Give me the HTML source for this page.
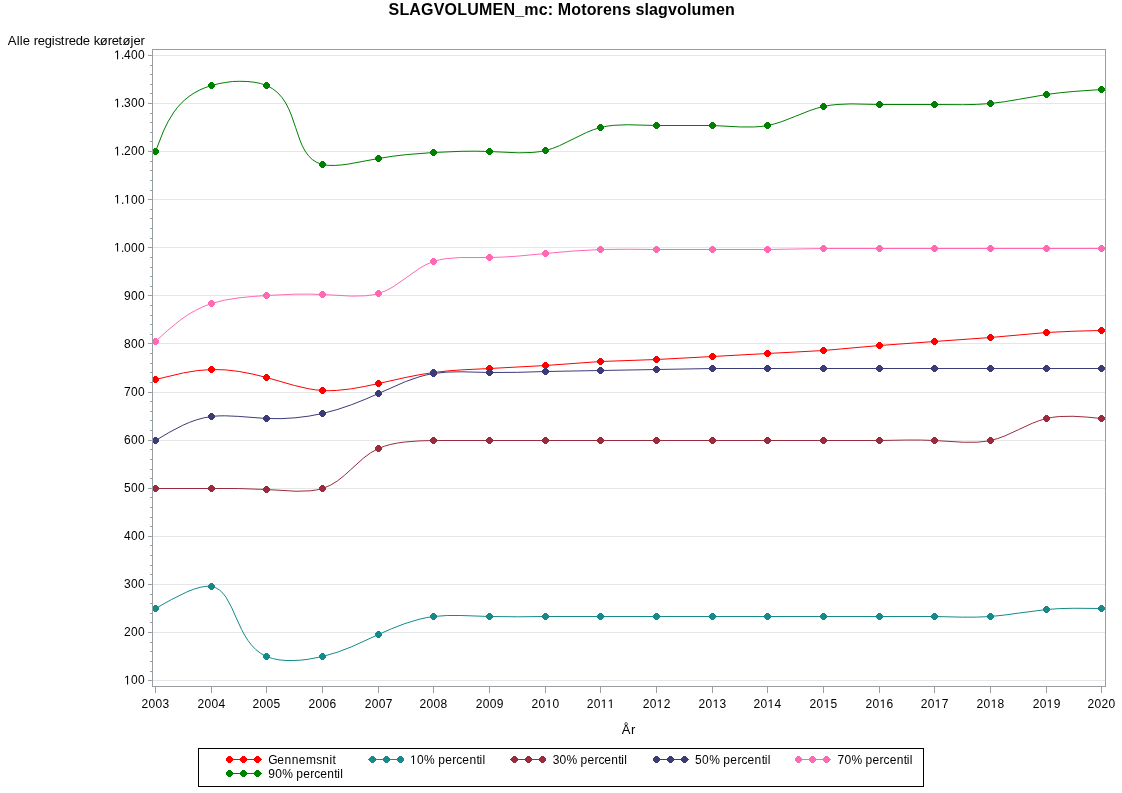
<!DOCTYPE html><html><head><meta charset="utf-8"><style>html,body{margin:0;padding:0;background:#fff;width:1122px;height:793px;overflow:hidden}svg{display:block;will-change:transform}text{font-family:"Liberation Sans",sans-serif;fill:#000}</style></head><body>
<svg width="1122" height="793" viewBox="0 0 1122 793">
<rect x="0" y="0" width="1122" height="793" fill="#fff"/>
<text x="388.53 399.39 409.34 421.09 433.76 444.62 457.28 467.23 478.98 492.55 503.41 515.16 524.22 538.70 547.75 553.17 557.70 571.26 581.20 586.63 596.57 602.91 611.96 621.91 630.96 635.49 644.54 649.06 658.12 668.06 677.12 687.06 691.59 701.53 716.01 725.06" y="15" font-size="16" font-weight="bold">SLAGVOLUMEN_mc: Motorens slagvolumen</text>
<text x="7.77 16.76 19.76 22.75 29.74 33.74 37.73 44.72 51.71 54.71 60.70 64.70 68.69 75.68 82.67 89.66 93.66 99.65 107.64 111.63 118.62 122.62 130.61 133.60 140.59" y="45" font-size="13">Alle registrede køretøjer</text>
<path d="M153,680.5H1105 M153,632.5H1105 M153,584.5H1105 M153,536.5H1105 M153,488.5H1105 M153,440.5H1105 M153,392.5H1105 M153,343.5H1105 M153,295.5H1105 M153,247.5H1105 M153,199.5H1105 M153,151.5H1105 M153,103.5H1105 M153,55.5H1105" stroke="#E6E6E6" stroke-width="1" fill="none" shape-rendering="crispEdges"/>
<path d="M148,680.5H152 M148,632.5H152 M148,584.5H152 M148,536.5H152 M148,488.5H152 M148,440.5H152 M148,392.5H152 M148,343.5H152 M148,295.5H152 M148,247.5H152 M148,199.5H152 M148,151.5H152 M148,103.5H152 M148,55.5H152 M150,671.5H152 M150,661.5H152 M150,651.5H152 M150,642.5H152 M150,622.5H152 M150,613.5H152 M150,603.5H152 M150,594.5H152 M150,574.5H152 M150,565.5H152 M150,555.5H152 M150,545.5H152 M150,526.5H152 M150,517.5H152 M150,507.5H152 M150,497.5H152 M150,478.5H152 M150,469.5H152 M150,459.5H152 M150,449.5H152 M150,430.5H152 M150,420.5H152 M150,411.5H152 M150,401.5H152 M150,382.5H152 M150,372.5H152 M150,363.5H152 M150,353.5H152 M150,334.5H152 M150,324.5H152 M150,315.5H152 M150,305.5H152 M150,286.5H152 M150,276.5H152 M150,267.5H152 M150,257.5H152 M150,238.5H152 M150,228.5H152 M150,218.5H152 M150,209.5H152 M150,190.5H152 M150,180.5H152 M150,170.5H152 M150,161.5H152 M150,141.5H152 M150,132.5H152 M150,122.5H152 M150,113.5H152 M150,93.5H152 M150,84.5H152 M150,74.5H152 M150,65.5H152 M155.5,687V693 M211.5,687V693 M266.5,687V693 M322.5,687V693 M378.5,687V693 M433.5,687V693 M489.5,687V693 M545.5,687V693 M600.5,687V693 M656.5,687V693 M712.5,687V693 M767.5,687V693 M823.5,687V693 M879.5,687V693 M934.5,687V693 M990.5,687V693 M1046.5,687V693 M1101.5,687V693" stroke="#989EA1" stroke-width="1" fill="none" shape-rendering="crispEdges"/>
<text x="123.99 130.99 137.99" y="684.4" font-size="12"> 00</text><path transform="translate(123.99,684.4) scale(0.005859,-0.005859)" d="M520 0V1290L200 1060V1230L535 1466H700V0Z"/>
<text x="123.99 130.99 137.99" y="636.3" font-size="12">200</text>
<text x="123.99 130.99 137.99" y="588.2" font-size="12">300</text>
<text x="123.99 130.99 137.99" y="540.1" font-size="12">400</text>
<text x="123.99 130.99 137.99" y="492.1" font-size="12">500</text>
<text x="123.99 130.99 137.99" y="444.0" font-size="12">600</text>
<text x="123.99 130.99 137.99" y="395.9" font-size="12">700</text>
<text x="123.99 130.99 137.99" y="347.8" font-size="12">800</text>
<text x="123.99 130.99 137.99" y="299.7" font-size="12">900</text>
<text x="113.99 120.99 123.99 130.99 137.99" y="251.6" font-size="12"> .000</text><path transform="translate(113.99,251.6) scale(0.005859,-0.005859)" d="M520 0V1290L200 1060V1230L535 1466H700V0Z"/>
<text x="113.99 120.99 123.99 130.99 137.99" y="203.5" font-size="12"> . 00</text><path transform="translate(113.99,203.5) scale(0.005859,-0.005859)" d="M520 0V1290L200 1060V1230L535 1466H700V0Z"/><path transform="translate(123.99,203.5) scale(0.005859,-0.005859)" d="M520 0V1290L200 1060V1230L535 1466H700V0Z"/>
<text x="113.99 120.99 123.99 130.99 137.99" y="155.4" font-size="12"> .200</text><path transform="translate(113.99,155.4) scale(0.005859,-0.005859)" d="M520 0V1290L200 1060V1230L535 1466H700V0Z"/>
<text x="113.99 120.99 123.99 130.99 137.99" y="107.3" font-size="12"> .300</text><path transform="translate(113.99,107.3) scale(0.005859,-0.005859)" d="M520 0V1290L200 1060V1230L535 1466H700V0Z"/>
<text x="113.99 120.99 123.99 130.99 137.99" y="59.2" font-size="12"> .400</text><path transform="translate(113.99,59.2) scale(0.005859,-0.005859)" d="M520 0V1290L200 1060V1230L535 1466H700V0Z"/>
<text x="141.62 148.62 155.62 162.62" y="708" font-size="12">2003</text>
<text x="197.54 204.54 211.54 218.54" y="708" font-size="12">2004</text>
<text x="252.61 259.61 266.61 273.61" y="708" font-size="12">2005</text>
<text x="308.62 315.62 322.62 329.62" y="708" font-size="12">2006</text>
<text x="364.66 371.66 378.66 385.66" y="708" font-size="12">2007</text>
<text x="419.62 426.62 433.62 440.62" y="708" font-size="12">2008</text>
<text x="475.65 482.65 489.65 496.65" y="708" font-size="12">2009</text>
<text x="531.60 538.60 545.60 552.60" y="708" font-size="12">20 0</text><path transform="translate(545.60,708) scale(0.005859,-0.005859)" d="M520 0V1290L200 1060V1230L535 1466H700V0Z"/>
<text x="586.65 593.65 600.65 607.65" y="708" font-size="12">20  </text><path transform="translate(600.65,708) scale(0.005859,-0.005859)" d="M520 0V1290L200 1060V1230L535 1466H700V0Z"/><path transform="translate(607.65,708) scale(0.005859,-0.005859)" d="M520 0V1290L200 1060V1230L535 1466H700V0Z"/>
<text x="642.66 649.66 656.66 663.66" y="708" font-size="12">20 2</text><path transform="translate(656.66,708) scale(0.005859,-0.005859)" d="M520 0V1290L200 1060V1230L535 1466H700V0Z"/>
<text x="698.62 705.62 712.62 719.62" y="708" font-size="12">20 3</text><path transform="translate(712.62,708) scale(0.005859,-0.005859)" d="M520 0V1290L200 1060V1230L535 1466H700V0Z"/>
<text x="753.54 760.54 767.54 774.54" y="708" font-size="12">20 4</text><path transform="translate(767.54,708) scale(0.005859,-0.005859)" d="M520 0V1290L200 1060V1230L535 1466H700V0Z"/>
<text x="809.61 816.61 823.61 830.61" y="708" font-size="12">20 5</text><path transform="translate(823.61,708) scale(0.005859,-0.005859)" d="M520 0V1290L200 1060V1230L535 1466H700V0Z"/>
<text x="865.62 872.62 879.62 886.62" y="708" font-size="12">20 6</text><path transform="translate(879.62,708) scale(0.005859,-0.005859)" d="M520 0V1290L200 1060V1230L535 1466H700V0Z"/>
<text x="920.66 927.66 934.66 941.66" y="708" font-size="12">20 7</text><path transform="translate(934.66,708) scale(0.005859,-0.005859)" d="M520 0V1290L200 1060V1230L535 1466H700V0Z"/>
<text x="976.62 983.62 990.62 997.62" y="708" font-size="12">20 8</text><path transform="translate(990.62,708) scale(0.005859,-0.005859)" d="M520 0V1290L200 1060V1230L535 1466H700V0Z"/>
<text x="1032.65 1039.65 1046.65 1053.65" y="708" font-size="12">20 9</text><path transform="translate(1046.65,708) scale(0.005859,-0.005859)" d="M520 0V1290L200 1060V1230L535 1466H700V0Z"/>
<text x="1087.60 1094.60 1101.60 1108.60" y="708" font-size="12">2020</text>
<text x="621.87 630.88" y="734" font-size="13">År</text>
<path d="M155.50,379.50 L183.36,372.90 L197.38,370.60 L211.50,369.50 L225.32,369.86 L239.16,371.48 L252.92,374.11 L266.50,377.50 L294.44,385.51 L308.37,388.71 L315.40,389.82 L322.50,390.50 L329.40,390.69 L336.38,390.45 L350.44,388.96 L364.54,386.49 L378.50,383.50 L406.01,377.38 L419.68,374.69 L433.50,372.50 L447.29,370.95 L461.27,369.88 L489.50,368.50 L545.50,365.50 L600.50,361.50 L656.50,359.50 L712.50,356.50 L767.50,353.50 L823.50,350.50 L879.50,345.50 L934.50,341.50 L990.50,337.50 L1046.50,332.50 L1073.95,331.19 L1101.50,330.50" stroke="#FF0000" stroke-width="1" fill="none"/>
<path d="M154,376H157V377H158V378H159V381H158V382H157V383H154V382H153V381H152V378H153V377H154ZM210,366H213V367H214V368H215V371H214V372H213V373H210V372H209V371H208V368H209V367H210ZM265,374H268V375H269V376H270V379H269V380H268V381H265V380H264V379H263V376H264V375H265ZM321,387H324V388H325V389H326V392H325V393H324V394H321V393H320V392H319V389H320V388H321ZM377,380H380V381H381V382H382V385H381V386H380V387H377V386H376V385H375V382H376V381H377ZM432,369H435V370H436V371H437V374H436V375H435V376H432V375H431V374H430V371H431V370H432ZM488,365H491V366H492V367H493V370H492V371H491V372H488V371H487V370H486V367H487V366H488ZM544,362H547V363H548V364H549V367H548V368H547V369H544V368H543V367H542V364H543V363H544ZM599,358H602V359H603V360H604V363H603V364H602V365H599V364H598V363H597V360H598V359H599ZM655,356H658V357H659V358H660V361H659V362H658V363H655V362H654V361H653V358H654V357H655ZM711,353H714V354H715V355H716V358H715V359H714V360H711V359H710V358H709V355H710V354H711ZM766,350H769V351H770V352H771V355H770V356H769V357H766V356H765V355H764V352H765V351H766ZM822,347H825V348H826V349H827V352H826V353H825V354H822V353H821V352H820V349H821V348H822ZM878,342H881V343H882V344H883V347H882V348H881V349H878V348H877V347H876V344H877V343H878ZM933,338H936V339H937V340H938V343H937V344H936V345H933V344H932V343H931V340H932V339H933ZM989,334H992V335H993V336H994V339H993V340H992V341H989V340H988V339H987V336H988V335H989ZM1045,329H1048V330H1049V331H1050V334H1049V335H1048V336H1045V335H1044V334H1043V331H1044V330H1045ZM1100,327H1103V328H1104V329H1105V332H1104V333H1103V334H1100V333H1099V332H1098V329H1099V328H1100Z" fill="#FF0000" shape-rendering="crispEdges"/>
<path d="M155.50,608.50 L171.33,599.64 L186.44,592.13 L193.48,589.29 L200.07,587.30 L206.11,586.31 L211.50,586.50 L215.83,587.80 L219.63,590.11 L222.98,593.29 L225.99,597.22 L231.29,606.81 L236.24,617.86 L241.53,629.38 L244.53,634.98 L247.87,640.33 L251.65,645.28 L255.96,649.71 L260.88,653.49 L266.50,656.50 L272.45,658.50 L278.97,659.85 L285.92,660.50 L293.16,660.50 L300.58,660.16 L308.03,659.29 L322.50,656.50 L337.84,652.04 L351.86,646.66 L378.50,634.50 L391.47,628.76 L404.95,623.56 L418.97,619.32 L426.17,617.70 L433.50,616.50 L447.19,615.50 L461.18,615.50 L489.50,616.50 L517.59,616.80 L545.50,616.50 L934.50,616.50 L962.60,617.15 L976.59,617.13 L990.50,616.50 L1004.54,615.06 L1018.51,613.12 L1046.50,609.50 L1060.15,608.59 L1073.88,608.25 L1101.50,608.50" stroke="#148A8A" stroke-width="1" fill="none"/>
<path d="M154,605H157V606H158V607H159V610H158V611H157V612H154V611H153V610H152V607H153V606H154ZM210,583H213V584H214V585H215V588H214V589H213V590H210V589H209V588H208V585H209V584H210ZM265,653H268V654H269V655H270V658H269V659H268V660H265V659H264V658H263V655H264V654H265ZM321,653H324V654H325V655H326V658H325V659H324V660H321V659H320V658H319V655H320V654H321ZM377,631H380V632H381V633H382V636H381V637H380V638H377V637H376V636H375V633H376V632H377ZM432,613H435V614H436V615H437V618H436V619H435V620H432V619H431V618H430V615H431V614H432ZM488,613H491V614H492V615H493V618H492V619H491V620H488V619H487V618H486V615H487V614H488ZM544,613H547V614H548V615H549V618H548V619H547V620H544V619H543V618H542V615H543V614H544ZM599,613H602V614H603V615H604V618H603V619H602V620H599V619H598V618H597V615H598V614H599ZM655,613H658V614H659V615H660V618H659V619H658V620H655V619H654V618H653V615H654V614H655ZM711,613H714V614H715V615H716V618H715V619H714V620H711V619H710V618H709V615H710V614H711ZM766,613H769V614H770V615H771V618H770V619H769V620H766V619H765V618H764V615H765V614H766ZM822,613H825V614H826V615H827V618H826V619H825V620H822V619H821V618H820V615H821V614H822ZM878,613H881V614H882V615H883V618H882V619H881V620H878V619H877V618H876V615H877V614H878ZM933,613H936V614H937V615H938V618H937V619H936V620H933V619H932V618H931V615H932V614H933ZM989,613H992V614H993V615H994V618H993V619H992V620H989V619H988V618H987V615H988V614H989ZM1045,606H1048V607H1049V608H1050V611H1049V612H1048V613H1045V612H1044V611H1043V608H1044V607H1045ZM1100,605H1103V606H1104V607H1105V610H1104V611H1103V612H1100V611H1099V610H1098V607H1099V606H1100Z" fill="#148A8A" shape-rendering="crispEdges"/>
<path d="M155.50,488.50 L211.50,488.50 L238.60,488.54 L266.50,489.50 L296.00,491.24 L309.95,490.84 L316.44,489.96 L322.50,488.50 L330.55,485.18 L337.75,480.70 L344.39,475.40 L350.72,469.63 L363.58,458.00 L370.65,452.81 L378.50,448.50 L384.43,446.20 L390.77,444.40 L397.46,443.04 L404.42,442.04 L418.86,440.92 L433.50,440.50 L879.50,440.50 L906.81,440.04 L920.56,440.06 L934.50,440.50 L963.23,442.26 L977.21,442.20 L983.96,441.50 L990.50,440.50 L997.82,438.51 L1004.88,435.90 L1018.56,429.64 L1032.21,423.31 L1039.24,420.61 L1046.50,418.50 L1052.87,417.28 L1059.44,416.50 L1073.07,416.28 L1087.17,417.11 L1101.50,418.50" stroke="#9A2A3C" stroke-width="1" fill="none"/>
<path d="M154,485H157V486H158V487H159V490H158V491H157V492H154V491H153V490H152V487H153V486H154ZM210,485H213V486H214V487H215V490H214V491H213V492H210V491H209V490H208V487H209V486H210ZM265,486H268V487H269V488H270V491H269V492H268V493H265V492H264V491H263V488H264V487H265ZM321,485H324V486H325V487H326V490H325V491H324V492H321V491H320V490H319V487H320V486H321ZM377,445H380V446H381V447H382V450H381V451H380V452H377V451H376V450H375V447H376V446H377ZM432,437H435V438H436V439H437V442H436V443H435V444H432V443H431V442H430V439H431V438H432ZM488,437H491V438H492V439H493V442H492V443H491V444H488V443H487V442H486V439H487V438H488ZM544,437H547V438H548V439H549V442H548V443H547V444H544V443H543V442H542V439H543V438H544ZM599,437H602V438H603V439H604V442H603V443H602V444H599V443H598V442H597V439H598V438H599ZM655,437H658V438H659V439H660V442H659V443H658V444H655V443H654V442H653V439H654V438H655ZM711,437H714V438H715V439H716V442H715V443H714V444H711V443H710V442H709V439H710V438H711ZM766,437H769V438H770V439H771V442H770V443H769V444H766V443H765V442H764V439H765V438H766ZM822,437H825V438H826V439H827V442H826V443H825V444H822V443H821V442H820V439H821V438H822ZM878,437H881V438H882V439H883V442H882V443H881V444H878V443H877V442H876V439H877V438H878ZM933,437H936V438H937V439H938V442H937V443H936V444H933V443H932V442H931V439H932V438H933ZM989,437H992V438H993V439H994V442H993V443H992V444H989V443H988V442H987V439H988V438H989ZM1045,415H1048V416H1049V417H1050V420H1049V421H1048V422H1045V421H1044V420H1043V417H1044V416H1045ZM1100,415H1103V416H1104V417H1105V420H1104V421H1103V422H1100V421H1099V420H1098V417H1099V416H1100Z" fill="#9A2A3C" shape-rendering="crispEdges"/>
<path d="M155.50,440.50 L168.79,432.61 L182.37,425.47 L189.35,422.42 L196.51,419.85 L203.88,417.84 L211.50,416.50 L217.99,415.93 L224.64,415.79 L238.34,416.38 L266.50,418.50 L280.92,418.64 L295.12,417.82 L309.02,416.10 L322.50,413.50 L337.12,409.60 L351.22,404.84 L364.97,399.41 L378.50,393.50 L405.23,381.71 L419.06,376.86 L426.19,374.96 L433.50,373.50 L447.03,372.08 L461.01,371.79 L489.50,372.50 L517.63,372.33 L545.50,371.50 L600.50,370.50 L656.50,369.50 L712.50,368.50 L1101.50,368.50" stroke="#3C3B78" stroke-width="1" fill="none"/>
<path d="M154,437H157V438H158V439H159V442H158V443H157V444H154V443H153V442H152V439H153V438H154ZM210,413H213V414H214V415H215V418H214V419H213V420H210V419H209V418H208V415H209V414H210ZM265,415H268V416H269V417H270V420H269V421H268V422H265V421H264V420H263V417H264V416H265ZM321,410H324V411H325V412H326V415H325V416H324V417H321V416H320V415H319V412H320V411H321ZM377,390H380V391H381V392H382V395H381V396H380V397H377V396H376V395H375V392H376V391H377ZM432,370H435V371H436V372H437V375H436V376H435V377H432V376H431V375H430V372H431V371H432ZM488,369H491V370H492V371H493V374H492V375H491V376H488V375H487V374H486V371H487V370H488ZM544,368H547V369H548V370H549V373H548V374H547V375H544V374H543V373H542V370H543V369H544ZM599,367H602V368H603V369H604V372H603V373H602V374H599V373H598V372H597V369H598V368H599ZM655,366H658V367H659V368H660V371H659V372H658V373H655V372H654V371H653V368H654V367H655ZM711,365H714V366H715V367H716V370H715V371H714V372H711V371H710V370H709V367H710V366H711ZM766,365H769V366H770V367H771V370H770V371H769V372H766V371H765V370H764V367H765V366H766ZM822,365H825V366H826V367H827V370H826V371H825V372H822V371H821V370H820V367H821V366H822ZM878,365H881V366H882V367H883V370H882V371H881V372H878V371H877V370H876V367H877V366H878ZM933,365H936V366H937V367H938V370H937V371H936V372H933V371H932V370H931V367H932V366H933ZM989,365H992V366H993V367H994V370H993V371H992V372H989V371H988V370H987V367H988V366H989ZM1045,365H1048V366H1049V367H1050V370H1049V371H1048V372H1045V371H1044V370H1043V367H1044V366H1045ZM1100,365H1103V366H1104V367H1105V370H1104V371H1103V372H1100V371H1099V370H1098V367H1099V366H1100Z" fill="#3C3B78" shape-rendering="crispEdges"/>
<path d="M155.50,341.50 L167.87,330.20 L180.89,319.63 L187.85,314.83 L195.22,310.49 L203.07,306.68 L211.50,303.50 L224.33,300.18 L238.05,297.95 L252.24,296.50 L266.50,295.50 L294.31,294.20 L308.25,294.09 L322.50,294.50 L351.71,296.12 L365.69,295.77 L372.27,294.93 L378.50,293.50 L386.04,290.65 L393.02,286.90 L406.06,277.83 L419.06,268.60 L426.01,264.64 L433.50,261.50 L439.71,259.79 L446.29,258.63 L460.25,257.55 L489.50,257.50 L503.83,257.05 L517.84,256.11 L545.50,253.50 L572.89,251.05 L600.50,249.50 L628.50,249.22 L656.50,249.50 L767.50,249.50 L823.50,248.50 L1101.50,248.50" stroke="#FF69B4" stroke-width="1" fill="none"/>
<path d="M154,338H157V339H158V340H159V343H158V344H157V345H154V344H153V343H152V340H153V339H154ZM210,300H213V301H214V302H215V305H214V306H213V307H210V306H209V305H208V302H209V301H210ZM265,292H268V293H269V294H270V297H269V298H268V299H265V298H264V297H263V294H264V293H265ZM321,291H324V292H325V293H326V296H325V297H324V298H321V297H320V296H319V293H320V292H321ZM377,290H380V291H381V292H382V295H381V296H380V297H377V296H376V295H375V292H376V291H377ZM432,258H435V259H436V260H437V263H436V264H435V265H432V264H431V263H430V260H431V259H432ZM488,254H491V255H492V256H493V259H492V260H491V261H488V260H487V259H486V256H487V255H488ZM544,250H547V251H548V252H549V255H548V256H547V257H544V256H543V255H542V252H543V251H544ZM599,246H602V247H603V248H604V251H603V252H602V253H599V252H598V251H597V248H598V247H599ZM655,246H658V247H659V248H660V251H659V252H658V253H655V252H654V251H653V248H654V247H655ZM711,246H714V247H715V248H716V251H715V252H714V253H711V252H710V251H709V248H710V247H711ZM766,246H769V247H770V248H771V251H770V252H769V253H766V252H765V251H764V248H765V247H766ZM822,245H825V246H826V247H827V250H826V251H825V252H822V251H821V250H820V247H821V246H822ZM878,245H881V246H882V247H883V250H882V251H881V252H878V251H877V250H876V247H877V246H878ZM933,245H936V246H937V247H938V250H937V251H936V252H933V251H932V250H931V247H932V246H933ZM989,245H992V246H993V247H994V250H993V251H992V252H989V251H988V250H987V247H988V246H989ZM1045,245H1048V246H1049V247H1050V250H1049V251H1048V252H1045V251H1044V250H1043V247H1044V246H1045ZM1100,245H1103V246H1104V247H1105V250H1104V251H1103V252H1100V251H1099V250H1098V247H1099V246H1100Z" fill="#FF69B4" shape-rendering="crispEdges"/>
<path d="M155.50,151.50 L163.51,130.97 L168.26,121.21 L173.91,112.05 L177.17,107.76 L180.76,103.70 L184.73,99.89 L189.11,96.36 L193.94,93.13 L199.26,90.22 L205.10,87.67 L211.50,85.50 L218.18,83.79 L225.25,82.50 L232.54,81.50 L239.88,81.29 L247.11,81.50 L254.07,82.19 L260.59,83.50 L266.50,85.50 L272.63,88.74 L277.78,92.82 L282.08,97.62 L285.68,103.00 L288.70,108.82 L291.28,114.97 L295.66,127.66 L299.89,140.03 L302.29,145.75 L305.06,151.00 L308.33,155.63 L312.24,159.51 L316.92,162.51 L322.50,164.50 L328.09,165.34 L334.33,165.46 L341.09,164.99 L348.26,164.07 L378.50,158.50 L392.82,156.23 L406.59,154.59 L433.50,152.50 L461.06,151.30 L475.17,151.17 L489.50,151.50 L518.38,152.82 L532.33,152.48 L539.03,151.74 L545.50,150.50 L552.69,148.36 L559.61,145.61 L572.98,139.09 L586.36,132.53 L593.29,129.72 L600.50,127.50 L607.00,126.17 L613.73,125.32 L627.72,124.75 L656.50,125.50 L712.50,125.50 L740.52,126.95 L754.28,126.94 L760.97,126.50 L767.50,125.50 L774.74,123.82 L781.78,121.61 L795.53,116.27 L809.26,110.79 L816.29,108.42 L823.50,106.50 L830.13,105.28 L836.93,104.49 L850.91,103.88 L879.50,104.50 L934.50,104.50 L962.60,104.69 L976.62,104.41 L990.50,103.50 L1004.59,101.72 L1018.56,99.36 L1046.50,94.50 L1060.12,92.75 L1073.85,91.43 L1101.50,89.50" stroke="#008000" stroke-width="1" fill="none"/>
<path d="M154,148H157V149H158V150H159V153H158V154H157V155H154V154H153V153H152V150H153V149H154ZM210,82H213V83H214V84H215V87H214V88H213V89H210V88H209V87H208V84H209V83H210ZM265,82H268V83H269V84H270V87H269V88H268V89H265V88H264V87H263V84H264V83H265ZM321,161H324V162H325V163H326V166H325V167H324V168H321V167H320V166H319V163H320V162H321ZM377,155H380V156H381V157H382V160H381V161H380V162H377V161H376V160H375V157H376V156H377ZM432,149H435V150H436V151H437V154H436V155H435V156H432V155H431V154H430V151H431V150H432ZM488,148H491V149H492V150H493V153H492V154H491V155H488V154H487V153H486V150H487V149H488ZM544,147H547V148H548V149H549V152H548V153H547V154H544V153H543V152H542V149H543V148H544ZM599,124H602V125H603V126H604V129H603V130H602V131H599V130H598V129H597V126H598V125H599ZM655,122H658V123H659V124H660V127H659V128H658V129H655V128H654V127H653V124H654V123H655ZM711,122H714V123H715V124H716V127H715V128H714V129H711V128H710V127H709V124H710V123H711ZM766,122H769V123H770V124H771V127H770V128H769V129H766V128H765V127H764V124H765V123H766ZM822,103H825V104H826V105H827V108H826V109H825V110H822V109H821V108H820V105H821V104H822ZM878,101H881V102H882V103H883V106H882V107H881V108H878V107H877V106H876V103H877V102H878ZM933,101H936V102H937V103H938V106H937V107H936V108H933V107H932V106H931V103H932V102H933ZM989,100H992V101H993V102H994V105H993V106H992V107H989V106H988V105H987V102H988V101H989ZM1045,91H1048V92H1049V93H1050V96H1049V97H1048V98H1045V97H1044V96H1043V93H1044V92H1045ZM1100,86H1103V87H1104V88H1105V91H1104V92H1103V93H1100V92H1099V91H1098V88H1099V87H1100Z" fill="#008000" shape-rendering="crispEdges"/>
<rect x="152.5" y="49.5" width="953" height="637" stroke="#989EA1" stroke-width="1" fill="none" shape-rendering="crispEdges"/>
<rect x="198.5" y="748.5" width="725" height="38" stroke="#000" stroke-width="1" fill="none" shape-rendering="crispEdges"/>
<path d="M226,759.5H262" stroke="#FF0000" stroke-width="1" shape-rendering="crispEdges"/>
<path d="M228,756H231V757H232V758H233V761H232V762H231V763H228V762H227V761H226V758H227V757H228ZM242,756H245V757H246V758H247V761H246V762H245V763H242V762H241V761H240V758H241V757H242ZM256,756H259V757H260V758H261V761H260V762H259V763H256V762H255V761H254V758H255V757H256Z" fill="#FF0000" shape-rendering="crispEdges"/>
<text x="268.18 277.37 284.51 291.66 298.80 305.95 316.16 322.28 329.42 332.49" y="764" font-size="12">Gennemsnit</text>
<path d="M368,759.5H404" stroke="#148A8A" stroke-width="1" shape-rendering="crispEdges"/>
<path d="M371,756H374V757H375V758H376V761H375V762H374V763H371V762H370V761H369V758H370V757H371ZM385,756H388V757H389V758H390V761H389V762H388V763H385V762H384V761H383V758H384V757H385ZM399,756H402V757H403V758H404V761H403V762H402V763H399V762H398V761H397V758H398V757H399Z" fill="#148A8A" shape-rendering="crispEdges"/>
<text x="409.98 417.03 424.08 435.17 438.19 445.24 452.30 456.33 462.37 469.42 476.48 479.50 482.52" y="764" font-size="12"> 0% percentil</text><path transform="translate(409.98,764) scale(0.005859,-0.005859)" d="M520 0V1290L200 1060V1230L535 1466H700V0Z"/>
<path d="M510,759.5H546" stroke="#9A2A3C" stroke-width="1" shape-rendering="crispEdges"/>
<path d="M513,756H516V757H517V758H518V761H517V762H516V763H513V762H512V761H511V758H512V757H513ZM527,756H530V757H531V758H532V761H531V762H530V763H527V762H526V761H525V758H526V757H527ZM541,756H544V757H545V758H546V761H545V762H544V763H541V762H540V761H539V758H540V757H541Z" fill="#9A2A3C" shape-rendering="crispEdges"/>
<text x="552.65 559.61 566.57 577.51 580.49 587.45 594.41 598.39 604.36 611.32 618.28 621.26 624.25" y="764" font-size="12">30% percentil</text>
<path d="M653,759.5H689" stroke="#3C3B78" stroke-width="1" shape-rendering="crispEdges"/>
<path d="M655,756H658V757H659V758H660V761H659V762H658V763H655V762H654V761H653V758H654V757H655ZM669,756H672V757H673V758H674V761H673V762H672V763H669V762H668V761H667V758H668V757H669ZM683,756H686V757H687V758H688V761H687V762H686V763H683V762H682V761H681V758H682V757H683Z" fill="#3C3B78" shape-rendering="crispEdges"/>
<text x="695.01 702.08 709.15 720.26 723.29 730.36 737.43 741.46 747.52 754.59 761.66 764.69 767.72" y="764" font-size="12">50% percentil</text>
<path d="M795,759.5H831" stroke="#FF69B4" stroke-width="1" shape-rendering="crispEdges"/>
<path d="M797,756H800V757H801V758H802V761H801V762H800V763H797V762H796V761H795V758H796V757H797ZM811,756H814V757H815V758H816V761H815V762H814V763H811V762H810V761H809V758H810V757H811ZM825,756H828V757H829V758H830V761H829V762H828V763H825V762H824V761H823V758H824V757H825Z" fill="#FF69B4" shape-rendering="crispEdges"/>
<text x="837.38 844.42 851.45 862.50 865.52 872.55 879.58 883.60 889.63 896.67 903.70 906.71 909.73" y="764" font-size="12">70% percentil</text>
<path d="M226,773.5H262" stroke="#008000" stroke-width="1" shape-rendering="crispEdges"/>
<path d="M228,770H231V771H232V772H233V775H232V776H231V777H228V776H227V775H226V772H227V771H228ZM242,770H245V771H246V772H247V775H246V776H245V777H242V776H241V775H240V772H241V771H242ZM256,770H259V771H260V772H261V775H260V776H259V777H256V776H255V775H254V772H255V771H256Z" fill="#008000" shape-rendering="crispEdges"/>
<text x="268.24 275.25 282.26 293.27 296.27 303.28 310.29 314.30 320.31 327.32 334.33 337.33 340.33" y="778" font-size="12">90% percentil</text>
</svg></body></html>
